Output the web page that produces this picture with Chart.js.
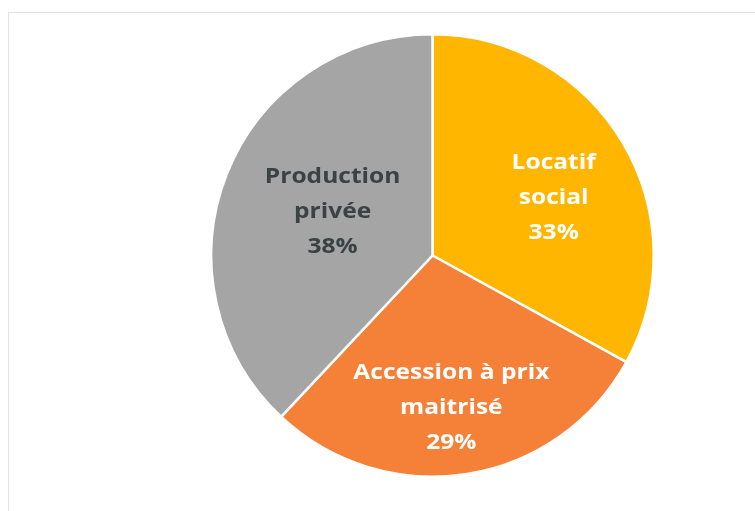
<!DOCTYPE html>
<html>
<head>
<meta charset="utf-8">
<script src="https://cdn.jsdelivr.net/npm/chart.js@4/dist/chart.umd.min.js"></script>
<style>
  html, body { margin: 0; padding: 0; background: #fff; }
  #wrap { position: relative; width: 755px; height: 511px; overflow: hidden; }
  #frame { position: absolute; left: 8px; top: 12px; width: 800px; height: 600px; border: 1px solid #e2e2e2; }
  canvas { position: absolute; left: 0; top: 0; }
</style>
</head>
<body>
<div id="wrap">
  <div id="frame"></div>
  <canvas id="pieChart" width="755" height="511"></canvas>
</div>
<script>
// data
const labels = [["Locatif", "social"], ["Accession à prix", "maitrisé"], ["Production", "privée"]];
const values = [33, 29, 38];
const colors = ["#FFB600", "#F58139", "#A5A5A5"];
const textColors = ["#ffffff", "#ffffff", "#3b4244"];

// label placement: fraction of radius + small nudge (px)
const labelRadius = [0.61, 0.69, 0.5];
const labelShift = [[5, 11], [-5, 2], [3, -3]];

const sliceLabels = {
    id: "sliceLabels",
    afterDatasetsDraw(chart) {
        const ctx = chart.ctx;
        const meta = chart.getDatasetMeta(0);
        meta.data.forEach((arc, i) => {
            const mid = (arc.startAngle + arc.endAngle) / 2;
            const r = arc.outerRadius * labelRadius[i];
            const x = arc.x + Math.cos(mid) * r + labelShift[i][0];
            const y = arc.y + Math.sin(mid) * r + labelShift[i][1];
            const lines = labels[i].concat([values[i] + "%"]);
            ctx.save();
            ctx.translate(x, y);
            ctx.scale(1.17, 1); // reference text is a little wider
            ctx.font = "bold 21px 'Open Sans', sans-serif";
            ctx.textAlign = "center";
            ctx.textBaseline = "middle";
            ctx.fillStyle = textColors[i];
            lines.forEach((line, j) => {
                ctx.fillText(line, 0, (j - (lines.length - 1) / 2) * 35);
            });
            ctx.restore();
        });
    }
};

const ctx = document.getElementById("pieChart").getContext("2d");
new Chart(ctx, {
    type: "pie",
    data: {
        labels: labels,
        datasets: [{
            data: values,
            backgroundColor: colors,
            borderColor: "#ffffff",
            borderWidth: 2.5
        }]
    },
    options: {
        responsive: false,
        animation: false,
        layout: { padding: { left: 209, right: 99, top: 33, bottom: 33 } },
        plugins: {
            legend: { display: false },
            tooltip: { enabled: false }
        }
    },
    plugins: [sliceLabels]
});
</script>
</body>
</html>
